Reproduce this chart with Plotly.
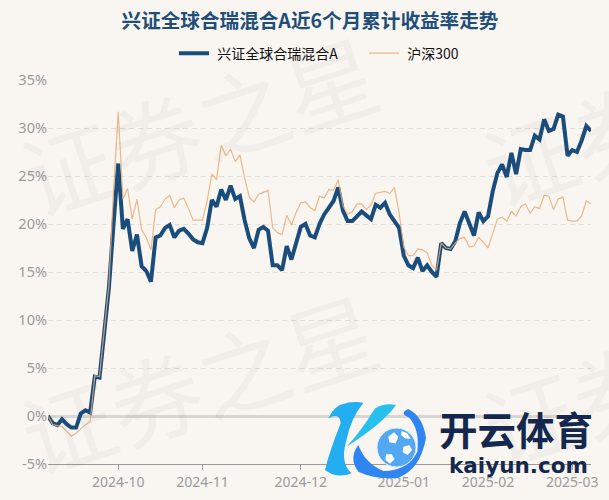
import plotly.graph_objects as go

CJK = "Noto Sans CJK SC"

title = "兴证全球合瑞混合A近6个月累计收益率走势"
fund_name = "兴证全球合瑞混合A"
index_name = "沪深300"

# one point per trading day (%)
fund = [0.0, -0.75, -0.95, -0.35, -0.85, -1.2, -1.2, 0.25, 0.6, 0.35,
        4.1, 4.0, 8.6, 13.3, 20.0, 26.3, 19.5, 20.5, 17.2, 18.9,
        15.6, 15.1, 14.0, 18.6, 18.8, 19.6, 19.9, 18.6, 19.3, 19.5,
        19.0, 18.4, 18.1, 18.0, 19.6, 22.5, 21.8, 23.6, 22.5, 24.0,
        22.6, 22.9, 20.4, 18.5, 17.5, 19.4, 19.7, 19.3, 15.7, 15.7,
        15.2, 17.7, 16.3, 18.2, 19.7, 20.0, 18.8, 18.6, 20.0, 21.0,
        21.7, 22.4, 23.8, 21.4, 20.3, 20.3, 20.8, 21.3, 20.9, 20.5,
        22.0, 21.7, 22.2, 21.0, 20.3, 19.6, 16.7, 15.7, 15.4, 16.5,
        15.1, 15.7, 15.0, 14.5, 18.0, 17.5, 17.4, 18.2, 20.1, 21.3,
        20.05, 18.8, 21.2, 20.3, 20.8, 23.4, 25.3, 26.2, 24.9, 27.4,
        25.2, 27.8, 27.7, 27.7, 29.2, 28.8, 30.9, 29.7, 29.9, 31.4,
        31.2, 27.1, 27.7, 27.5, 28.7, 30.2, 29.7]

hs300 = [0.0, -0.9, -1.0, -1.1, -1.6, -2.1, -1.8, -1.3, -0.9, -0.6,
         4.2, 4.1, 8.8, 13.6, 23.5, 31.7, 22.6, 23.7, 20.5, 22.6,
         19.4, 18.6, 17.3, 21.5, 21.8, 22.6, 23.0, 21.7, 22.5, 22.7,
         21.6, 20.4, 20.4, 20.4, 22.4, 25.2, 24.6, 28.2, 27.1, 27.8,
         26.5, 27.2, 24.8, 22.8, 22.3, 23.1, 23.3, 23.5, 19.6, 19.1,
         18.9, 20.9, 19.9, 21.2, 22.2, 22.3, 21.7, 21.4, 22.9, 22.7,
         23.6, 23.5, 24.6, 21.9, 21.0, 21.3, 22.1, 22.1, 21.5, 22.0,
         23.2, 23.3, 23.4, 23.2, 23.8, 21.2, 17.6, 16.7, 16.7, 17.4,
         17.3, 17.0, 15.7, 15.2, 18.0, 17.5, 17.4, 18.0, 18.5, 18.6,
         17.6, 17.7, 18.6, 18.1, 17.5, 19.0, 20.5, 20.7, 20.3, 21.3,
         20.85, 21.8, 22.1, 21.1, 21.8, 21.6, 23.0, 22.9, 21.5, 22.6,
         22.8, 20.4, 20.3, 20.3, 20.85, 22.4, 22.1]

month_idx = [15, 33, 54, 76, 94, 112]
month_labels = ["2024-10", "2024-11", "2024-12", "2025-01", "2025-02", "2025-03"]
y_ticks = [-5, 0, 5, 10, 15, 20, 25, 30, 35]
y_labels = ["-5%", "0%", "5%", "10%", "15%", "20%", "25%", "30%", "35%"]

W, H = 609, 500
L, R, T, B = 48, 591, 79.5, 464


def px(x, y):
    return (x - L) / (R - L), (B - y) / (B - T)


def blob(points, color):
    # closed smooth-ish outline given in zoomed logo coordinates
    pts = [px(320 + a / 3, 395 + b / 3) for a, b in points]
    d = "M%.4f,%.4f" % pts[0]
    for i in range(1, len(pts) - 1, 2):
        d += " Q%.4f,%.4f %.4f,%.4f" % (pts[i] + pts[i + 1])
    d += " Z"
    return dict(type="path", xref="paper", yref="paper", path=d,
                fillcolor=color, line_width=0, layer="above")


def poly(points, color):
    pts = [px(320 + a / 3, 395 + b / 3) for a, b in points]
    d = "M" + " L".join("%.4f,%.4f" % p for p in pts) + " Z"
    return dict(type="path", xref="paper", yref="paper", path=d,
                fillcolor=color, line_width=0, layer="above")


def label(text, cx, cy, font, angle=0):
    fig.add_annotation(text=text, xref="paper", yref="paper", x=px(cx, cy)[0], y=px(cx, cy)[1],
                       xanchor="center", yanchor="middle", showarrow=False, textangle=angle,
                       font=font)


fig = go.Figure()
x = list(range(len(fund)))
fig.add_trace(go.Scatter(x=x, y=fund, name="\u00a0" + fund_name, mode="lines", cliponaxis=False,
                         line=dict(color="#1a4c7c", width=4)))
fig.add_trace(go.Scatter(x=x, y=hs300, name="\u00a0" + index_name, mode="lines", cliponaxis=False,
                         opacity=0.85, line=dict(color="#e8ae78", width=1.2)))

fig.update_layout(
    width=W, height=H,
    autosize=False,
    margin=dict(l=L, r=W - R, t=T, b=H - B, autoexpand=False),
    paper_bgcolor="#f9f6f2",
    plot_bgcolor="#f9f6f2",
    font=dict(family=CJK, color="#222222", size=14),
    showlegend=True,
    title=dict(text="<b>" + title + "</b>", x=310 / W, xanchor="center", y=1 - 21 / H, yanchor="middle",
               font=dict(size=19.6, color="#1f4e79", family=CJK)),
    legend=dict(orientation="h", x=px(174, 0)[0], xanchor="left",
                y=px(0, 53)[1], yanchor="middle",
                entrywidth=145, entrywidthmode="pixels",
                font=dict(size=14, color="#111111", family=CJK),
                bgcolor="rgba(0,0,0,0)"),
)
fig.update_xaxes(range=[0, len(fund) - 1], tickmode="array", tickvals=month_idx, ticktext=month_labels,
                 automargin=False,
                 showgrid=False, zeroline=False, showline=True, linecolor="#9a9a9a", linewidth=1,
                 ticks="outside", ticklen=5, tickcolor="#9a9a9a",
                 tickfont=dict(size=14, color="#9a9a9a", family="Noto Sans"))
fig.update_yaxes(range=[-5, 35], tickmode="array", tickvals=y_ticks, ticktext=y_labels,
                 automargin=False,
                 showgrid=True, gridcolor="#e0ddd8", gridwidth=1.3, griddash="5px,4px",
                 zeroline=True, zerolinecolor="#d8d6d2", zerolinewidth=2.5, showline=False,
                 tickfont=dict(size=14.5, color="#9a9a9a", family="Noto Sans"))

# faint tiled watermark
for cx, cy in [(198, 122), (198, 380), (660, 112), (660, 372)]:
    label("证券之星", cx, cy, dict(size=92, color="rgba(60,60,50,0.04)", family=CJK), angle=-18)

# logo, lower right
label("<b>开云体育</b>", 516, 428, dict(size=38.5, color="#14284f", family=CJK))
label("<b>kaiyun.com</b>", 518, 466, dict(size=21.5, color="#14284f", family="DejaVu Sans"))

shapes = [
    blob([(25, 70), (40, 30), (85, 22), (115, 18), (130, 24), (92, 70), (78, 140), (60, 205),
          (95, 235), (50, 252), (15, 225), (28, 170), (62, 85), (60, 50), (25, 70)], "#22aef0"),
    blob([(80, 155), (125, 105), (165, 40), (195, 22), (228, 30), (190, 85), (80, 155)], "#28c0ee"),
    blob([(115, 150), (85, 190), (115, 230), (170, 255), (235, 248), (300, 225), (318, 130),
          (310, 65), (265, 42), (235, 55), (268, 68), (300, 105), (292, 170), (262, 228), (190, 228),
          (135, 205), (115, 150)], "#2f86f3"),
    dict(type="circle", xref="paper", yref="paper", layer="above",
         x0=px(377, 0)[0], x1=px(416, 0)[0], y0=px(0, 467)[1], y1=px(0, 428)[1],
         fillcolor="#52a8f2", line=dict(color="#dff0fc", width=1)),
    poly([(205, 125), (222, 112), (235, 125), (227, 145), (208, 142)], "#ffffff"),
    poly([(250, 155), (268, 150), (276, 165), (263, 180), (248, 172)], "#ffffff"),
    poly([(198, 178), (215, 178), (224, 192), (210, 206), (196, 195)], "#ffffff"),
    poly([(245, 108), (262, 115), (272, 132), (255, 130), (243, 120)], "#ffffff"),
]
fig.update_layout(shapes=shapes)

# drop the page's default body margin so the figure sits at the window's corner
fig.write_html("out.html", config=dict(displayModeBar=False),
               post_script="document.body.style.margin='0';")
